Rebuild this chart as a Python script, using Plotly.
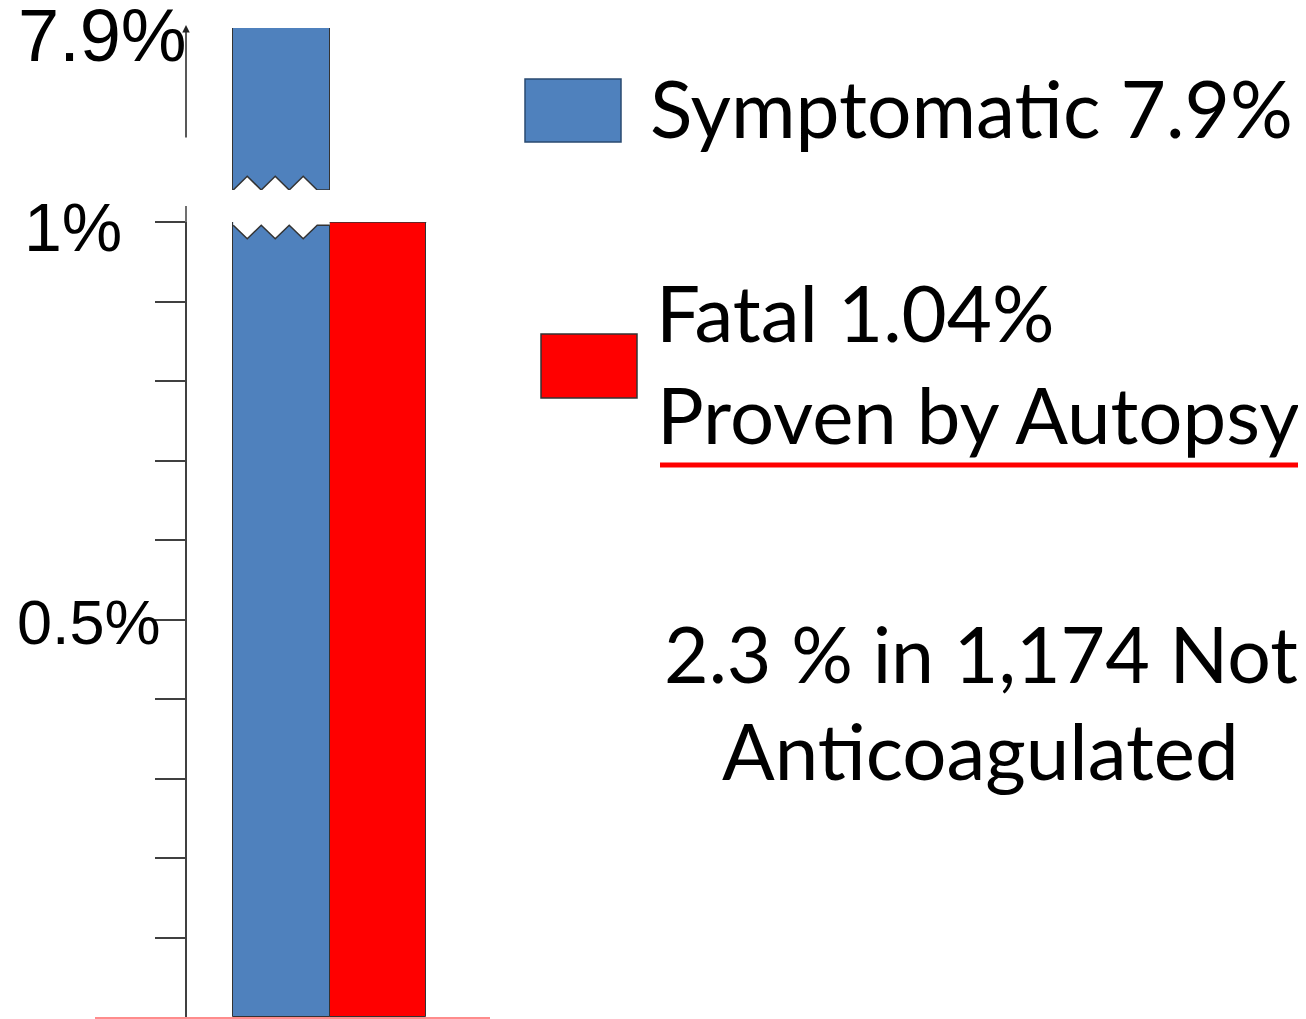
import plotly.graph_objects as go

# ---------------- data ----------------
categories = ["Symptomatic", "Fatal"]
values = [7.9, 1.04]
bar_colors = ["#4f81bd", "#ff0000"]
tick_vals = [0.1, 0.2, 0.3, 0.4, 0.5, 0.6, 0.7, 0.8, 0.9, 1.0]
axis_labels = {"0.5%": 0.5, "1%": 1.0}
top_label = "7.9%"
legend_texts = ["Symptomatic 7.9%", "Fatal 1.04%", "Proven by Autopsy"]
note_lines = ["2.3 % in 1,174 Not", "Anticoagulated"]

OFF = 8  # default page body margin
W, H = 1306 - OFF, 1019 - OFF
def px(p):
    return (p - OFF) / W
def py(p):
    return 1 - (p - OFF) / H

xpos = [0, 1]
lower_range = [0, 1.0]
upper_range = [6.9, 7.9]

ppu = 96.5
xr0 = -(281.5 - 95) / ppu
xr1 = xr0 + (490 - 95) / ppu

fig = go.Figure()
fig.add_trace(go.Bar(x=xpos, y=values, width=1, marker=dict(color=bar_colors, line=dict(color="#333333", width=1)),
                     xaxis="x", yaxis="y", showlegend=False, hoverinfo="skip"))
fig.add_trace(go.Bar(x=[xpos[0]], y=[values[0]], width=1, marker=dict(color=bar_colors[0], line=dict(color="#333333", width=1)),
                     xaxis="x", yaxis="y2", showlegend=False, hoverinfo="skip"))

shapes = []
x0 = xpos[0] - 0.5
step = 0.145
n = 6
lo_peak = lower_range[1] - 0.004
lo_valley = lower_range[1] - 0.021
pts = [(x0, lo_peak)]
for i in range(1, n + 1):
    pts.append((x0 + i * step, lo_valley if i % 2 == 1 else lo_peak))
pts.append((xpos[0] + 0.5, lo_peak))
poly = "M {} {} ".format(x0, lower_range[1]) + " ".join("L {} {}".format(a, b) for a, b in pts) + " L {} {} Z".format(xpos[0] + 0.5, lower_range[1])
shapes.append(dict(type="path", xref="x", yref="y", path=poly, fillcolor="white", line=dict(width=0), layer="above"))
line_path = "M " + " L ".join("{} {}".format(a, b) for a, b in pts)
shapes.append(dict(type="path", xref="x", yref="y", path=line_path, line=dict(color="#333333", width=1.5)))
shapes.append(dict(type="line", xref="x", yref="y", x0=xpos[1] - 0.5, x1=xpos[1] + 0.5, y0=lower_range[1], y1=lower_range[1],
                   line=dict(color="#333333", width=1.5)))

up_base = upper_range[0]
up_peak = upper_range[0] + 0.085
pts2 = [(x0, up_base)]
for i in range(1, n + 1):
    pts2.append((x0 + i * step, up_peak if i % 2 == 1 else up_base))
pts2.append((xpos[0] + 0.5, up_base))
poly2 = "M " + " L ".join("{} {}".format(a, b) for a, b in pts2) + " Z"
shapes.append(dict(type="path", xref="x", yref="y2", path=poly2, fillcolor="white", line=dict(width=0), layer="above"))
line_path2 = "M " + " L ".join("{} {}".format(a, b) for a, b in pts2)
shapes.append(dict(type="path", xref="x", yref="y2", path=line_path2, line=dict(color="#333333", width=1.5)))

shapes.append(dict(type="line", xref="paper", yref="paper", x0=px(186), x1=px(186), y0=py(222), y1=py(206),
                   line=dict(color="#404040", width=1.5)))

shapes.append(dict(type="rect", xref="paper", yref="paper", x0=px(525), x1=px(621), y0=py(142), y1=py(79),
                   fillcolor=bar_colors[0], line=dict(color="#2a4a70", width=1.5)))
shapes.append(dict(type="rect", xref="paper", yref="paper", x0=px(541), x1=px(637), y0=py(398), y1=py(334),
                   fillcolor=bar_colors[1], line=dict(color="#333333", width=1.5)))
shapes.append(dict(type="line", xref="paper", yref="paper", x0=px(660), x1=px(1300), y0=py(465), y1=py(465),
                   line=dict(color="#ff0000", width=5)))

annotations = []
lab_font = dict(family="Liberation Sans, Arial", color="black")
annotations.append(dict(text=top_label, xref="paper", yref="y2", x=px(189), y=upper_range[1], xanchor="right",
                        yanchor="middle", yshift=-8, showarrow=False, font=dict(size=74, **lab_font)))
annotations.append(dict(text="1%", xref="paper", yref="y", x=px(124), y=axis_labels["1%"], xanchor="right",
                        yanchor="middle", yshift=-5, showarrow=False, font=dict(size=68, **lab_font)))
annotations.append(dict(text="0.5%", xref="paper", yref="y", x=px(163), y=axis_labels["0.5%"], xanchor="right",
                        yanchor="middle", yshift=-2, showarrow=False, font=dict(size=63, **lab_font)))
annotations.append(dict(text="", xref="paper", yref="y2", x=px(186), y=upper_range[1], showarrow=True,
                        arrowhead=2, arrowsize=1, arrowwidth=1.5, arrowcolor="#222222", ax=0, ay=114,
                        yshift=3))

txt_font = dict(family="Lato, Carlito, Calibri, sans-serif", color="black")
annotations.append(dict(text=legend_texts[0], xref="paper", yref="paper", x=px(648), y=py(108), xanchor="left",
                        yanchor="middle", showarrow=False, font=dict(size=78.5, **txt_font)))
annotations.append(dict(text=legend_texts[1], xref="paper", yref="paper", x=px(654), y=py(312), xanchor="left",
                        yanchor="middle", showarrow=False, font=dict(size=78, **txt_font)))
annotations.append(dict(text=legend_texts[2], xref="paper", yref="paper", x=px(655), y=py(414), xanchor="left",
                        yanchor="middle", showarrow=False, font=dict(size=78, **txt_font)))
annotations.append(dict(text=note_lines[0], xref="paper", yref="paper", x=px(981), y=py(653), xanchor="center",
                        yanchor="middle", showarrow=False, font=dict(size=77, **txt_font)))
annotations.append(dict(text=note_lines[1], xref="paper", yref="paper", x=px(980), y=py(750), xanchor="center",
                        yanchor="middle", showarrow=False, font=dict(size=78, **txt_font)))

fig.update_layout(
    width=W, height=H,
    margin=dict(l=0, r=0, t=0, b=0),
    paper_bgcolor="white", plot_bgcolor="rgba(0,0,0,0)",
    bargap=0,
    xaxis=dict(domain=[px(95), px(490)], range=[xr0, xr1], showline=True, linecolor="#ff8c8c", linewidth=2,
               showticklabels=False, ticks="", showgrid=False, zeroline=False, anchor="y", fixedrange=True),
    yaxis=dict(domain=[py(1017), py(222)], range=lower_range, anchor="free", position=px(186),
               showline=True, linecolor="#404040", linewidth=1.5, ticks="outside", ticklen=30, tickwidth=1.5,
               tickcolor="#404040", tickvals=tick_vals, showticklabels=False, showgrid=False, zeroline=False),
    yaxis2=dict(domain=[py(190), py(28)], range=upper_range, anchor="x", showline=False, showticklabels=False,
                ticks="", showgrid=False, zeroline=False),
    shapes=shapes,
    annotations=annotations,
)

fig.write_html("out.html")
